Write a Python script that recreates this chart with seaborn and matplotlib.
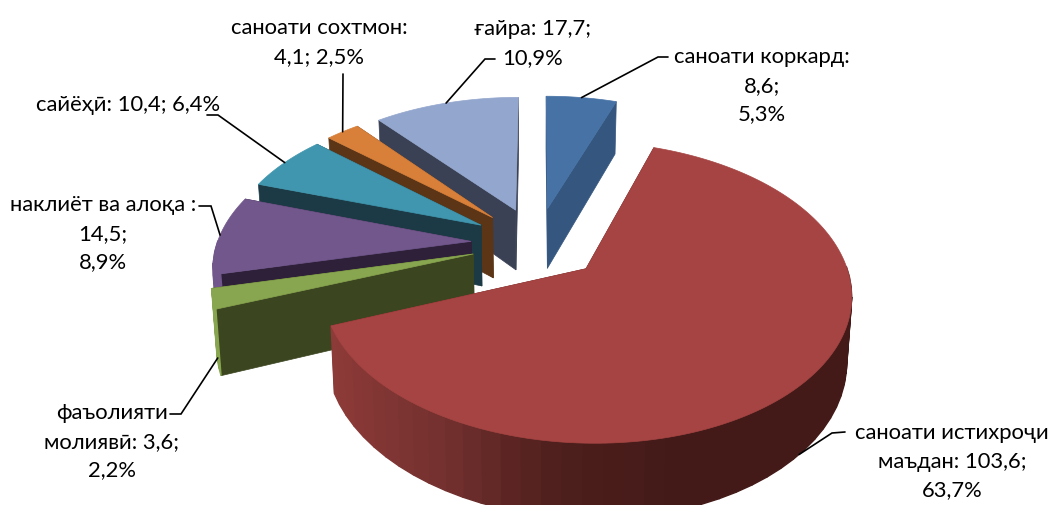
"""Exploded 3D-look pie, projected by hand because matplotlib has no perspective pie."""
import numpy as np
import matplotlib
matplotlib.use("Agg")
import matplotlib.pyplot as plt
import seaborn as sns

# data, clockwise from 12 o'clock
names = ["саноати коркард", "саноати истихроҷи маъдан", "фаъолияти молиявӣ",
         "наклиёт ва алоқа", "сайёҳӣ", "саноати сохтмон", "ғайра"]
values = [8.6, 103.6, 3.6, 14.5, 10.4, 4.1, 17.7]

top_colors = ["#4672a6", "#a54442", "#88a54f", "#71578c", "#4096ae", "#d8803a", "#93a6cd"]
cut_colors = ["#34567f", "#5c2221", "#3b4520", "#2e2039", "#1b3a46", "#5c3517", "#3a4155"]

label_lines = [
    ["саноати коркард:", "8,6;", "5,3%"],
    ["саноати истихроҷи", "маъдан: 103,6;", "63,7%"],
    ["фаъолияти", "молиявӣ: 3,6;", "2,2%"],
    ["наклиёт ва алоқа :", "14,5;", "8,9%"],
    ["сайёҳӣ: 10,4; 6,4%"],
    ["саноати сохтмон:", "4,1; 2,5%"],
    ["ғайра: 17,7;", "10,9%"],
]
label_x = [762, 952, 112, 103, 128, 319, 533]
label_y = [57, 433, 413, 205, 105, 28, 29]
leader_start = [(668, 58), (845, 433), (170, 415), (199, 207), (207, 116), (343, 75), (495, 60)]
leader_elbow = [(658, 58), (832, 434), (181, 415), (211, 207), (218, 116), (343, 75), (485, 60)]
leader_drop = [0, 1.0, 0.9, 0, 0, 0, 0]

# projection settings (pixels)
CX, CY = 537, 244
RADIUS = 254
EXPLODE = 66
TILT = 0.548
PERSP = 0.0006
HEIGHT = 62
CONVERGE = 0.016  # verticals lean inward going down
LINE_H = 28.7


def project(x, y, drop=0.0):
    w = 1 - PERSP * y
    return CX + x / w * (1 - CONVERGE * drop), CY + (TILT * y + drop * HEIGHT) / w


def rim(a0, a1, n):
    ang = np.linspace(a0, a1, n)
    return np.sin(ang), -np.cos(ang)


sns.set_theme(style="white")
plt.rcParams["font.family"] = ["Lato", "Noto Sans", "DejaVu Sans"]
wall_pal = sns.blend_palette(["#8e3b38", "#72302e", "#4d1e1c", "#431a18", "#431a18"], 120)

fig, ax = plt.subplots(figsize=(10.51, 5.06), dpi=100)
fig.subplots_adjust(0, 0, 1, 1)
ax.set_xlim(0, 1051)
ax.set_ylim(506, 0)
ax.axis("off")

total = sum(values)
edges = np.concatenate([[0], np.cumsum(values)]) / total * 2 * np.pi
mids = (edges[:-1] + edges[1:]) / 2
apex_x = EXPLODE * np.sin(mids)
apex_y = -EXPLODE * np.cos(mids)


def cut_face(i, a):
    u, v = np.sin(a), -np.cos(a)
    ox, oy = apex_x[i] + RADIUS * u, apex_y[i] + RADIUS * v
    pts = [project(apex_x[i], apex_y[i]), project(ox, oy),
           project(ox, oy, 1), project(apex_x[i], apex_y[i], 1)]
    ax.fill(*zip(*pts), color=cut_colors[i], lw=0.5)


# far slices first so nearer ones paint over them
for i in np.argsort(apex_y):
    a0, a1 = edges[i], edges[i + 1]
    cut_face(i, a0)
    cut_face(i, a1)

    # outer wall in coarse bands, only the part that faces us
    n = max(int((a1 - a0) * 15), 4)
    u, v = rim(a0, a1, n)
    xs, ys = apex_x[i] + RADIUS * u, apex_y[i] + RADIUS * v
    for j in range(n - 1):
        if v[j] + v[j + 1] <= 0:
            continue
        q = [project(xs[j], ys[j]), project(xs[j + 1], ys[j + 1]),
             project(xs[j + 1], ys[j + 1], 1), project(xs[j], ys[j], 1)]
        if i == 1:
            px = np.clip(int((q[0][0] - 330) / 480 * 119), 0, 119)
            col = wall_pal[px]
        else:
            col = top_colors[i]
        ax.fill(*zip(*q), color=col, lw=1.0)

    # top face
    u, v = rim(a0, a1, 200)
    px, py = project(np.r_[apex_x[i], apex_x[i] + RADIUS * u], np.r_[apex_y[i], apex_y[i] + RADIUS * v])
    ax.fill(px, py, color=top_colors[i], lw=0.5)

# leaders and labels
for i, lines in enumerate(label_lines):
    u, v = np.sin(mids[i]), -np.cos(mids[i])
    tip = project(apex_x[i] + RADIUS * u, apex_y[i] + RADIUS * v, leader_drop[i])
    path = [leader_start[i], leader_elbow[i], tip]
    ax.plot(*zip(*path), color="black", lw=1.2, solid_joinstyle="miter")
    for k, line in enumerate(lines):
        ax.text(label_x[i], label_y[i] + k * LINE_H, line, ha="center", va="center",
                fontsize=15.8, color="black")

fig.savefig("out.png", dpi=100)
